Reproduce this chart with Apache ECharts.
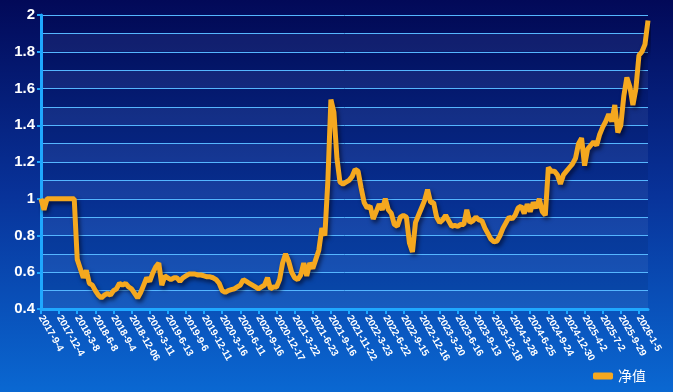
<!DOCTYPE html>
<html>
<head>
<meta charset="utf-8">
<script src="https://cdn.jsdelivr.net/npm/echarts@6/dist/echarts.min.js"></script>
<style>html,body{margin:0;padding:0;}#c{width:673px;height:392px;}</style>
</head>
<body>
<div id="c"></div>
<script>
const tickLabels = ['2017-9-4','2017-12-4','2018-3-8','2018-6-8','2018-9-4','2018-12-06','2019-3-11','2019-6-13','2019-9-6','2019-12-11','2020-3-16','2020-6-11','2020-9-16','2020-12-17','2021-3-22','2021-6-23','2021-9-16','2021-11-22','2022-3-23','2022-6-22','2022-9-15','2022-12-16','2023-3-20','2023-6-16','2023-9-13','2023-12-18','2024-3-28','2024-6-25','2024-9-24','2024-12-30','2025-4-2','2025-7-2','2025-9-29','2026-1-5'];
const pointsPerTick = 6;
const navValues = [
1.00,0.94,1.00,1.00,1.00,1.00,1.00,1.00,1.00,1.00,1.00,1.00,
0.67,0.62,0.57,0.61,0.54,0.53,0.50,0.475,0.46,0.475,0.485,0.475,
0.50,0.51,0.54,0.53,0.54,0.52,0.51,0.485,0.46,0.49,0.53,0.57,
0.55,0.595,0.63,0.65,0.53,0.58,0.57,0.56,0.57,0.57,0.55,0.57,
0.58,0.59,0.59,0.59,0.585,0.585,0.58,0.575,0.575,0.57,0.56,0.54,
0.50,0.49,0.50,0.505,0.51,0.52,0.53,0.56,0.55,0.54,0.53,0.52,
0.51,0.52,0.53,0.57,0.51,0.52,0.52,0.56,0.65,0.70,0.66,0.60,
0.57,0.56,0.585,0.65,0.58,0.65,0.62,0.67,0.72,0.84,0.80,1.10,
1.54,1.47,1.22,1.09,1.08,1.09,1.10,1.12,1.16,1.15,1.06,0.98,
0.95,0.96,0.89,0.93,0.97,0.94,1.00,0.94,0.92,0.86,0.85,0.90,
0.91,0.90,0.76,0.71,0.87,0.91,0.95,0.99,1.05,0.98,0.98,0.90,
0.87,0.885,0.91,0.88,0.85,0.855,0.85,0.86,0.86,0.94,0.87,0.88,
0.90,0.885,0.88,0.84,0.81,0.78,0.765,0.77,0.80,0.84,0.87,0.90,
0.89,0.91,0.95,0.96,0.92,0.97,0.93,0.98,0.95,1.00,0.93,0.91,
1.17,1.15,1.15,1.13,1.08,1.13,1.15,1.17,1.19,1.22,1.30,1.33,
1.18,1.27,1.29,1.31,1.29,1.35,1.39,1.42,1.46,1.42,1.51,1.36,
1.40,1.56,1.66,1.61,1.51,1.60,1.78,1.80,1.84,1.97
];
const categories = navValues.map((v, i) => (i % pointsPerTick === 0 && tickLabels[i / pointsPerTick]) ? tickLabels[i / pointsPerTick] : '');
const showTick = (idx) => idx % pointsPerTick === 0;

const chart = echarts.init(document.getElementById('c'), null, {renderer: 'canvas'});
const axisColor = '#1fa8ff';
chart.setOption({
  backgroundColor: new echarts.graphic.LinearGradient(0, 0, 0, 1, [
    {offset: 0, color: '#020958'},
    {offset: 0.5, color: '#08339a'},
    {offset: 1, color: '#0a68d2'}
  ]),
  animation: false,
  grid: {left: 41, right: 25, top: 15, bottom: 83, containLabel: false},
  legend: {
    data: ['净值'], right: 22, bottom: 4, icon: 'roundRect', itemWidth: 20, itemHeight: 7,
    textStyle: {color: '#ffffff', fontSize: 14, fontFamily: 'Noto Sans CJK SC'}
  },
  xAxis: {
    type: 'category', data: categories, boundaryGap: false,
    axisLine: {lineStyle: {color: axisColor, width: 3}},
    axisTick: {show: true, interval: showTick, length: 5, lineStyle: {color: axisColor, width: 2}},
    axisLabel: {interval: showTick, rotate: -60, color: '#ffffff', fontSize: 10, fontWeight: 'bold', fontFamily: 'Arial, Liberation Sans', margin: 7},
    splitLine: {show: false}
  },
  yAxis: [{
    type: 'value', min: 0.4, max: 2, interval: 0.1,
    axisLine: {show: true, lineStyle: {color: axisColor, width: 3}},
    axisTick: {show: false}, axisLabel: {show: false},
    splitLine: {show: true, lineStyle: {color: '#55b6ff', width: 1}},
    splitArea: {show: true, areaStyle: {color: ['rgba(255,255,255,0.06)', 'rgba(0,0,20,0.08)']}}
  }, {
    type: 'value', min: 0.4, max: 2, interval: 0.2, position: 'left',
    axisLine: {show: false}, splitLine: {show: false},
    axisTick: {show: true, length: 4, lineStyle: {color: axisColor, width: 2}},
    axisLabel: {color: '#ffffff', fontSize: 15, fontWeight: 'bold', fontFamily: 'Arial, Liberation Sans', margin: 6}
  }],
  series: [{
    name: '净值', type: 'line', data: navValues, yAxisIndex: 0, xAxisIndex: 0,
    showSymbol: false, symbol: 'none',
    itemStyle: {color: '#f5a81f'},
    lineStyle: {color: '#f5a81f', width: 5, shadowColor: 'rgba(0,0,20,0.6)', shadowBlur: 4, shadowOffsetX: 2, shadowOffsetY: 3}
  }]
});
</script>
</body>
</html>
